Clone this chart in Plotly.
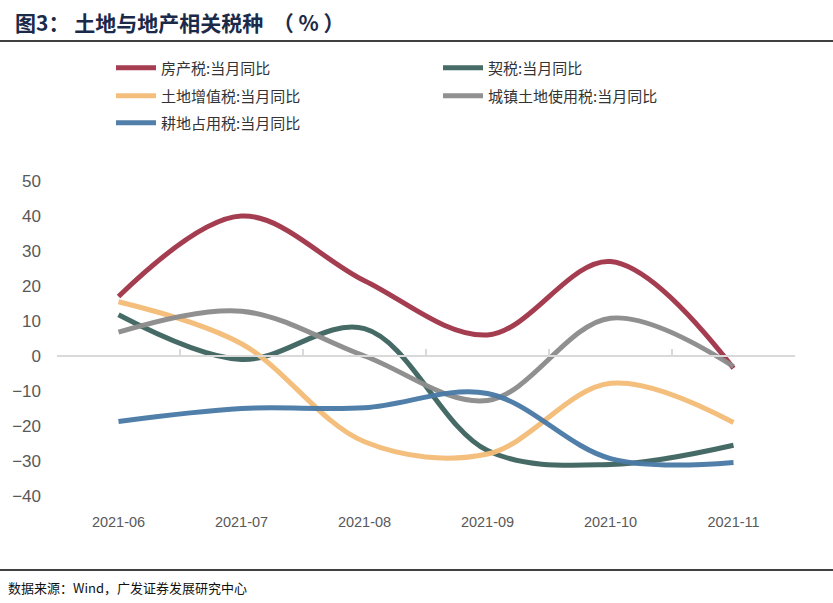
import plotly.graph_objects as go

categories = ["2021-06", "2021-07", "2021-08", "2021-09", "2021-10", "2021-11"]
series_names = ["房产税:当月同比", "契税:当月同比", "土地增值税:当月同比", "城镇土地使用税:当月同比", "耕地占用税:当月同比"]
fangchan = [17, 40, 21.5, 6, 27, -3.5]
qishui = [11.8, -1, 7.8, -27, -31, -25.5]
tudizengzhi = [15.5, 3.5, -24.5, -28, -7.8, -19]
chengzhen = [6.8, 12.8, 0, -12.7, 10.8, -3]
gengdi = [-18.7, -15, -14.8, -10.7, -29.3, -30.4]
y_ticks = [50, 40, 30, 20, 10, 0, -10, -20, -30, -40]

colors = ["#A3374B", "#416762", "#F4BC78", "#8D8D8D", "#4B7BA7"]
values = [fangchan, qishui, tudizengzhi, chengzhen, gengdi]
legend_rows = ["legend", "legend", "legend2", "legend2", "legend3"]

W, H = 833, 603
ML, MR, MT, MB = 57, 38, 181, 107

fig = go.Figure()
for name, vals, c, lg in zip(series_names, values, colors, legend_rows):
    fig.add_trace(go.Scatter(
        x=categories, y=vals, name=name, mode="lines", legend=lg,
        line=dict(color=c, width=5, shape="spline", smoothing=1),
        opacity=0.97,
    ))

# dummy trace for zero-line axis with boundary ticks
fig.add_trace(go.Scatter(x=categories, y=[0] * len(categories), xaxis="x2",
                         mode="lines", line=dict(width=0), showlegend=False,
                         hoverinfo="skip"))

plot_h = H - MT - MB
plot_w = W - ML - MR
zero_pos = (50 - 0) / (50 - (-40))  # fraction from top

def leg(ypix):
    return dict(
        orientation="h", xref="container", yref="container",
        x=111 / W, y=1 - ypix / H, xanchor="left", yanchor="middle",
        entrywidth=272, entrywidthmode="pixels",
        font=dict(family="Noto Sans CJK SC", size=15, color="#333333"),
        itemwidth=40, traceorder="normal", bgcolor="rgba(0,0,0,0)",
    )

fig.update_layout(
    width=W, height=H,
    margin=dict(l=ML, r=MR, t=MT, b=MB),
    paper_bgcolor="white", plot_bgcolor="white",
    showlegend=True,
    legend=leg(68), legend2=leg(96), legend3=leg(123),
    xaxis=dict(
        type="category", range=[-0.5, 5.5], showline=False, showgrid=False,
        zeroline=False, ticks="", ticklabelstandoff=15,
        tickfont=dict(family="Liberation Sans", size=14.5, color="#595959"),
    ),
    xaxis2=dict(
        type="category", range=[-0.5, 5.5], overlaying="x", anchor="free",
        position=1 - zero_pos, side="bottom", showline=True, linecolor="#D9D9D9",
        linewidth=2, ticks="inside", ticklen=6, tickwidth=2, tickcolor="#D9D9D9",
        tickson="boundaries", showticklabels=False, showgrid=False, zeroline=False,
    ),
    yaxis=dict(
        range=[-40, 50], tickvals=y_ticks, showline=False, showgrid=False,
        zeroline=False, ticks="", ticklabelstandoff=15,
        tickfont=dict(family="Liberation Sans", size=17, color="#595959"),
    ),
)

# title and footer
fig.add_annotation(
    text="<b>图3：&nbsp;土地与地产相关税种&nbsp;&nbsp;（&nbsp;%&nbsp;）</b>", xref="paper", yref="paper",
    x=(13 - ML) / plot_w, y=1 + (MT - 22) / plot_h,
    xanchor="left", yanchor="middle", showarrow=False,
    font=dict(family="Noto Sans CJK SC", size=21, color="#1B2A48"),
)
fig.add_annotation(
    text="数据来源：Wind，广发证券发展研究中心", xref="paper", yref="paper",
    x=(6 - ML) / plot_w, y=-(587 - (H - MB)) / plot_h,
    xanchor="left", yanchor="middle", showarrow=False,
    font=dict(family="Noto Sans CJK SC", size=13, color="#111111"),
)
for ypix in (41, 570):
    fig.add_shape(type="line", xref="paper", yref="paper",
                  x0=-ML / plot_w, x1=1 + MR / plot_w,
                  y0=1 + (MT - ypix) / plot_h, y1=1 + (MT - ypix) / plot_h,
                  line=dict(color="#000000", width=1.5))

fig.write_html("out.html", config={"displayModeBar": False},
               post_script="document.body.style.margin='0px';document.body.style.overflow='hidden';")
